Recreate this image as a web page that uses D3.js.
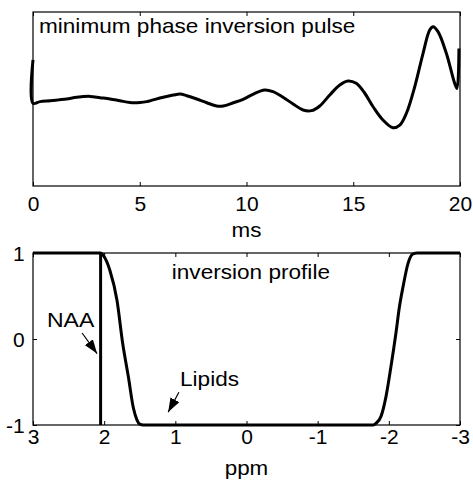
<!DOCTYPE html>
<html>
<head>
<meta charset="utf-8">
<script src="https://cdn.jsdelivr.net/npm/d3@7"></script>
<style>
  body { margin: 0; background: #fff; }
  text { font-family: "Liberation Sans", Arial, sans-serif; fill: #000; }
  .frame { fill: none; stroke: #000; stroke-width: 1.2; }
  .tick line { stroke: #000; stroke-width: 1; }
  .domain { display: none; }
  .curve { fill: none; stroke: #000; stroke-width: 3; stroke-linejoin: round; }
</style>
</head>
<body>
<div id="chart"></div>
<script>
// pulse (top panel): time in ms, amplitude in arbitrary units
const pulseMs = [0, 0, 0.33, 0.80, 1.19, 1.58, 2.05, 2.67, 3.14, 3.61, 4.07, 4.54, 5.01, 5.33, 5.63,
  6.10, 6.57, 6.89, 7.20, 7.67, 8.14, 8.60, 8.91, 9.38, 9.84, 10.30, 10.85, 11.24, 11.71, 12.18,
  12.65, 13.04, 13.43, 13.90, 14.37, 14.75, 15.14, 15.54, 15.93, 16.39, 16.86, 17.18, 17.49,
  17.88, 18.27, 18.58, 18.74, 18.97, 19.36, 19.75, 19.86, 19.95]
const pulseAmp = [0.45, -0.05, -0.03, -0.02, -0.01, 0.0, 0.02, 0.03, 0.015, 0.0, -0.02, -0.04, -0.04, -0.03, -0.01,
  0.02, 0.045, 0.057, 0.038, 0.0, -0.043, -0.08, -0.08, -0.043, -0.003, 0.054, 0.103, 0.084, 0.02, -0.057,
  -0.126, -0.134, -0.08, 0.046, 0.161, 0.207, 0.18, 0.066, -0.089, -0.241, -0.33, -0.30, -0.164,
  0.141, 0.525, 0.793, 0.831, 0.774, 0.525, 0.18, 0.12, 0.58]

// inversion profile (bottom panel)
const profPpm = [3.0, 2.05, 2.01, 1.92, 1.82, 1.74, 1.66, 1.59, 1.54, 1.50, 1.45,
  -1.78, -1.82, -1.89, -1.96, -2.03, -2.10, -2.15, -2.20, -2.27, -2.34, -2.40, -3.0]
const profVal = [1, 1, 0.97, 0.80, 0.45, -0.05, -0.44, -0.80, -0.94, -0.99, -1,
  -1, -0.98, -0.90, -0.67, -0.32, 0.07, 0.38, 0.61, 0.88, 0.99, 1, 1]
const naaPpm = 2.05

const msTicks = [0, 5, 10, 15, 20]
const ppmTicks = [3, 2, 1, 0, -1, -2, -3]
const valTicks = [-1, 0, 1]

const width = 473
const height = 481
const left = 33, right = 460
const fmt = d => String(d)   // plain hyphen for negatives, like the original

const svg = d3.select('#chart').append('svg')
  .attr('width', width)
  .attr('height', height)

svg.append('defs').append('marker')
  .attr('id', 'head')
  .attr('viewBox', '0 0 14 10')
  .attr('refX', 14).attr('refY', 5)
  .attr('markerWidth', 14).attr('markerHeight', 10)
  .attr('markerUnits', 'userSpaceOnUse')
  .attr('orient', 'auto')
  .append('path').attr('d', 'M0,0 L14,5 L0,10 Z').attr('fill', '#000')

// ---------- top panel ----------
const x1 = d3.scaleLinear().domain([0, 20]).range([left, right])
const y1 = d3.scaleLinear().domain([-1, 1]).range([186, 12])

const topPanel = svg.append('g')

topPanel.append('g')
  .attr('transform', `translate(0, ${y1.range()[0]})`)
  .call(d3.axisBottom(x1).tickValues(msTicks).tickSize(-4).tickFormat(fmt))
  .call(g => g.selectAll('text').attr('y', 25.5).attr('dy', null)
    .attr('font-size', 20).attr('transform', 'scale(1.05,1)'))

topPanel.append('g')
  .attr('transform', `translate(0, ${y1.range()[1]})`)
  .call(d3.axisTop(x1).tickValues(msTicks).tickSize(-4).tickFormat(''))

topPanel.append('rect').attr('class', 'frame')
  .attr('x', left).attr('y', y1.range()[1])
  .attr('width', right - left).attr('height', y1.range()[0] - y1.range()[1])

const pulseLine = d3.line()
  .x((d, i) => x1(pulseMs[i]))
  .y(d => y1(d))
  .curve(d3.curveCatmullRom.alpha(0.5))

topPanel.append('path').attr('class', 'curve')
  .attr('d', pulseLine(pulseAmp))

topPanel.append('text')
  .attr('transform', `translate(${x1(0.28)}, 33) scale(1.13,1)`)
  .attr('font-size', 20)
  .text('minimum phase inversion pulse')

svg.append('text')
  .attr('transform', `translate(${x1(10)}, 236.5) scale(1.12,1)`)
  .attr('text-anchor', 'middle')
  .attr('font-size', 20)
  .text('ms')

// ---------- bottom panel ----------
const x2 = d3.scaleLinear().domain([3, -3]).range([left, right])
const y2 = d3.scaleLinear().domain([-1, 1]).range([425, 253])

const botPanel = svg.append('g')

botPanel.append('g')
  .attr('transform', `translate(0, ${y2.range()[0]})`)
  .call(d3.axisBottom(x2).tickValues(ppmTicks).tickSize(-4).tickFormat(fmt))
  .call(g => g.selectAll('text').attr('y', 19.5).attr('dy', null)
    .attr('font-size', 20).attr('transform', 'scale(1.05,1)'))

botPanel.append('g')
  .attr('transform', `translate(0, ${y2.range()[1]})`)
  .call(d3.axisTop(x2).tickValues(ppmTicks).tickSize(-4).tickFormat(''))

botPanel.append('g')
  .attr('transform', `translate(${left}, 0)`)
  .call(d3.axisLeft(y2).tickValues(valTicks).tickSize(-4).tickFormat(fmt))
  .call(g => g.selectAll('text').attr('x', -8).attr('dy', '0.35em')
    .attr('font-size', 20).attr('transform', 'scale(1.05,1)'))

botPanel.append('g')
  .attr('transform', `translate(${right}, 0)`)
  .call(d3.axisRight(y2).tickValues(valTicks).tickSize(-4).tickFormat(''))

botPanel.append('rect').attr('class', 'frame')
  .attr('x', left).attr('y', y2.range()[1])
  .attr('width', right - left).attr('height', y2.range()[0] - y2.range()[1])

const profLine = d3.line()
  .x((d, i) => x2(profPpm[i]))
  .y(d => y2(d))
  .curve(d3.curveMonotoneX)

botPanel.append('path').attr('class', 'curve')
  .attr('d', profLine(profVal))

botPanel.append('line').attr('class', 'curve')
  .attr('x1', x2(naaPpm)).attr('x2', x2(naaPpm))
  .attr('y1', y2(-1)).attr('y2', y2(1))
  .style('stroke-linecap', 'butt')

botPanel.append('text')
  .attr('transform', `translate(${x2(1.05)}, 279) scale(1.13,1)`)
  .attr('font-size', 20)
  .text('inversion profile')

botPanel.append('text')
  .attr('transform', `translate(47, 327) scale(1.15,1)`)
  .attr('font-size', 20)
  .text('NAA')

botPanel.append('text')
  .attr('transform', `translate(180, 386) scale(1.13,1)`)
  .attr('font-size', 20)
  .text('Lipids')

// arrows
botPanel.append('line')
  .attr('x1', x2(2.31)).attr('y1', y2(0.07))
  .attr('x2', x2(2.10)).attr('y2', y2(-0.17))
  .attr('stroke', '#000').attr('stroke-width', 1.2)
  .attr('marker-end', 'url(#head)')

botPanel.append('line')
  .attr('x1', x2(0.95)).attr('y1', y2(-0.62))
  .attr('x2', x2(1.10)).attr('y2', y2(-0.85))
  .attr('stroke', '#000').attr('stroke-width', 1.2)
  .attr('marker-end', 'url(#head)')

svg.append('text')
  .attr('transform', `translate(${x2(0)}, 475) scale(1.12,1)`)
  .attr('text-anchor', 'middle')
  .attr('font-size', 20)
  .text('ppm')
</script>
</body>
</html>
